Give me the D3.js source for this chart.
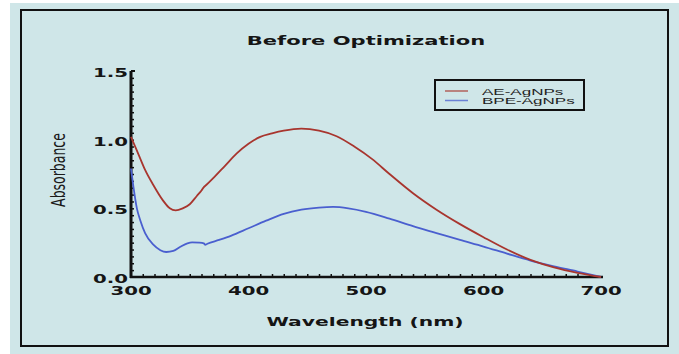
<!DOCTYPE html>
<html>
<head>
<meta charset="utf-8">
<script src="https://cdn.jsdelivr.net/npm/d3@7"></script>
<style>
  html, body { margin: 0; padding: 0; background: #ffffff; }
  #plot { width: 679px; height: 354px; }
</style>
</head>
<body>
<div id="plot"></div>
<script>
// Spectra
const wlAE = [300, 303, 307, 312, 319, 327, 333, 338, 344, 350, 356, 360, 362, 364, 370, 380, 390, 400, 410, 420, 430, 445, 460, 475, 490, 505, 520, 540, 560, 580, 600, 620, 640, 660, 680, 700];
const absAE = [1.02, 0.96, 0.88, 0.78, 0.67, 0.56, 0.50, 0.485, 0.50, 0.53, 0.59, 0.63, 0.655, 0.67, 0.72, 0.81, 0.90, 0.97, 1.02, 1.045, 1.065, 1.08, 1.065, 1.025, 0.95, 0.86, 0.75, 0.61, 0.49, 0.385, 0.29, 0.20, 0.125, 0.07, 0.03, 0.0];

const wlBPE = [300, 302, 305, 308, 312, 319, 325, 330, 336, 342, 348, 352, 358, 362, 363, 365, 375, 385, 400, 415, 430, 445, 460, 472, 485, 500, 520, 540, 560, 580, 600, 620, 640, 660, 680, 700];
const absBPE = [0.79, 0.66, 0.50, 0.41, 0.32, 0.235, 0.195, 0.182, 0.19, 0.22, 0.245, 0.252, 0.25, 0.245, 0.235, 0.242, 0.27, 0.30, 0.355, 0.41, 0.46, 0.49, 0.505, 0.51, 0.50, 0.475, 0.425, 0.37, 0.32, 0.27, 0.222, 0.17, 0.12, 0.078, 0.04, 0.0];

const seriesNames = ["AE-AgNPs", "BPE-AgNPs"];
const seriesColors = ["#a8352e", "#4a5fcf"];
const xTicks = [300, 400, 500, 600, 700];
const yTicks = [0, 0.5, 1.0, 1.5];

const width = 679;
const height = 354;
const stretch = 1.65; // the source picture is squeezed wide, text looks stretched

const svg = d3.select("#plot")
    .append("svg")
    .attr("width", width)
    .attr("height", height)
    .attr("viewBox", [0, 0, width, height]);

// panel background + frame
svg.append("rect")
    .attr("x", 10).attr("y", 3)
    .attr("width", width - 10).attr("height", height - 3)
    .attr("fill", "#cfe6e8");
svg.append("rect")
    .attr("x", 21).attr("y", 10)
    .attr("width", 647).attr("height", 336)
    .attr("fill", "none")
    .attr("stroke", "#111")
    .attr("stroke-width", 2);

const x = d3.scaleLinear().domain([300, 700]).range([131, 601]);
const y = d3.scaleLinear().domain([0, 1.5]).range([277, 71]);

// helper for horizontally stretched text
function stext(tx, ty, str, opts) {
    const t = svg.append("text")
        .attr("transform", `translate(${tx},${ty}) scale(${opts.sx || stretch},1)` + (opts.rot ? ` rotate(${opts.rot})` : ""))
        .attr("text-anchor", opts.anchor || "middle")
        .attr("font-family", opts.family || "DejaVu Sans")
        .attr("font-weight", opts.weight || "bold")
        .attr("font-size", opts.size)
        .attr("fill", opts.fill || "#151515")
        .text(str);
    return t;
}

// minor ticks, inside
const minorX = svg.append("g")
    .attr("transform", `translate(0,${y(0)})`)
    .call(d3.axisBottom(x).tickValues(d3.range(310, 700, 10)).tickSize(-3).tickFormat(""));
minorX.select(".domain").remove();
minorX.selectAll("line").attr("stroke", "#111").attr("stroke-width", 1.5);

const minorY = svg.append("g")
    .attr("transform", `translate(${x(300)},0)`)
    .call(d3.axisLeft(y).tickValues(d3.range(0.05, 1.5, 0.05)).tickSize(-3).tickFormat(""));
minorY.select(".domain").remove();
minorY.selectAll("line").attr("stroke", "#111").attr("stroke-width", 1.5);

// axis lines
svg.append("line")
    .attr("x1", x(300) - 1).attr("x2", x(700) + 2)
    .attr("y1", y(0)).attr("y2", y(0))
    .attr("stroke", "#111").attr("stroke-width", 2.5);
svg.append("line")
    .attr("x1", x(300)).attr("x2", x(300))
    .attr("y1", y(1.5)).attr("y2", y(0) + 1)
    .attr("stroke", "#111").attr("stroke-width", 3);
svg.append("line")
    .attr("x1", x(300)).attr("x2", x(300) + 4)
    .attr("y1", y(1.5)).attr("y2", y(1.5))
    .attr("stroke", "#111").attr("stroke-width", 2);

// tick labels
xTicks.forEach(v => stext(x(v), 295, String(v), {size: 11.5, sx: 1.72}));
yTicks.forEach(v => stext(x(300) - 3, y(v) + 6, d3.format(".1f")(v), {size: 11.5, sx: 1.72, anchor: "end"}));

// titles
stext(366, 45, "Before Optimization", {size: 13, sx: 1.62});
stext(365, 326, "Wavelength (nm)", {size: 12, sx: 1.69});
stext(65, 170, "Absorbance", {size: 12.5, sx: 1.6, weight: "normal", rot: -90, fill: "#1a1a1a"});

// curves
const line = d3.line()
    .curve(d3.curveMonotoneX)
    .x(d => x(d[0]))
    .y(d => y(d[1]));

const curves = [
    d3.zip(wlAE, absAE),
    d3.zip(wlBPE, absBPE)
];

svg.append("g")
    .attr("fill", "none")
    .attr("stroke-width", 1.8)
    .attr("stroke-linejoin", "round")
    .selectAll("path")
    .data([1, 0])
    .join("path")
    .attr("stroke", i => seriesColors[i])
    .attr("d", i => line(curves[i]));

// legend
svg.append("rect")
    .attr("x", 435).attr("y", 80)
    .attr("width", 149).attr("height", 30)
    .attr("fill", "none")
    .attr("stroke", "#111")
    .attr("stroke-width", 2);

seriesNames.forEach((name, i) => {
    const ly = 91 + i * 9.5;
    svg.append("line")
        .attr("x1", 445).attr("x2", 468)
        .attr("y1", ly).attr("y2", ly)
        .attr("stroke", seriesColors[i])
        .attr("stroke-opacity", 0.75)
        .attr("stroke-width", 1.5);
    stext(482, ly + 3.5, name, {size: 9.2, sx: 1.85, anchor: "start", family: "Liberation Sans", weight: "normal", fill: "#222"});
});
</script>
</body>
</html>
